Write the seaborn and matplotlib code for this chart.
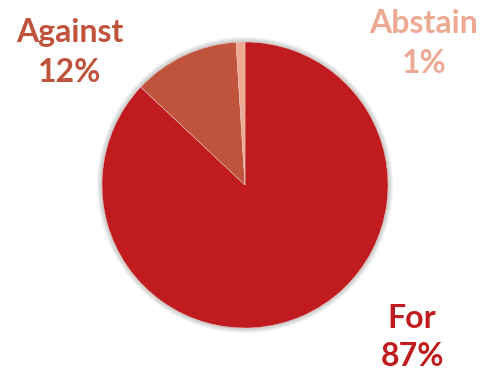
import matplotlib
matplotlib.use("Agg")
import matplotlib.pyplot as plt
from matplotlib.patches import Circle
import seaborn as sns

# Vote shares
categories = ["For", "Against", "Abstain"]
shares = [87, 12, 1]
colors = ["#C01C1F", "#C0533B", "#EDAA93"]

sns.set_theme(style="white")
plt.rcParams["font.family"] = ["Lato", "DejaVu Sans"]

fig = plt.figure(figsize=(4.9, 3.71), dpi=100)
ax = fig.add_axes([0, 0, 1, 1])

R = 143.0  # pie radius in pixels
cx, cy = 245.0, 185.0

def px(x, y):
    return (x - cx) / R, (cy - y) / R

# soft glow around the pie
for k in range(6):
    ax.add_patch(Circle((0, 0), 1 + 0.006 * (k + 1), color="black",
                        alpha=0.035, lw=0, zorder=0))

ax.pie(shares, colors=colors, startangle=90, counterclock=False,
       radius=1, wedgeprops=dict(linewidth=0.3, edgecolor="#f0d0c8"),
       frame=True)
ax.set_xlim(-cx / R, (490 - cx) / R)
ax.set_ylim(-(371 - cy) / R, cy / R)
ax.set_aspect("equal")
ax.set_axis_off()

label_pos = {"For": ((412, 318), (412, 356)),
             "Against": ((70, 33), (70, 73)),
             "Abstain": ((424, 24), (424, 64))}
for cat, val, col in zip(categories, shares, colors):
    (x1, y1), (x2, y2) = label_pos[cat]
    ax.text(*px(x1, y1), cat, color=col, fontsize=23, fontweight="bold",
            ha="center", va="center")
    ax.text(*px(x2, y2), f"{val}%", color=col, fontsize=23, fontweight="bold",
            ha="center", va="center")

fig.savefig("out.png", dpi=100)
